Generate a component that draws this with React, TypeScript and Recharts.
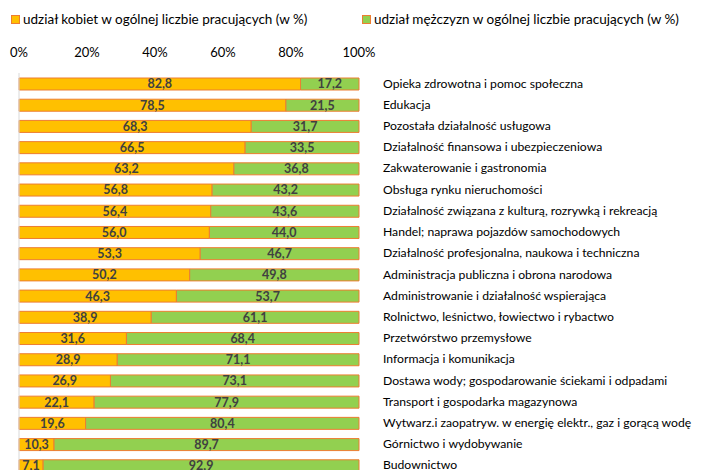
import React from "react";
import {
  BarChart,
  Bar,
  XAxis,
  YAxis,
  LabelList,
  ReferenceLine,
} from "recharts";

const categories = [
  "Opieka zdrowotna i pomoc społeczna",
  "Edukacja",
  "Pozostała działalność usługowa",
  "Działalność finansowa i ubezpieczeniowa",
  "Zakwaterowanie i gastronomia",
  "Obsługa rynku nieruchomości",
  "Działalność związana z kulturą, rozrywką i  rekreacją",
  "Handel; naprawa pojazdów samochodowych",
  "Działalność  profesjonalna, naukowa i techniczna",
  "Administracja publiczna i obrona narodowa",
  "Administrowanie i działalność wspierająca",
  "Rolnictwo, leśnictwo, łowiectwo i rybactwo",
  "Przetwórstwo przemysłowe",
  "Informacja  i  komunikacja",
  "Dostawa wody; gospodarowanie ściekami i odpadami",
  "Transport i  gospodarka magazynowa",
  "Wytwarz.i zaopatryw. w energię elektr., gaz i gorącą wodę",
  "Górnictwo i wydobywanie",
  "Budownictwo",
];

const women = [
  82.8, 78.5, 68.3, 66.5, 63.2, 56.8, 56.4, 56.0, 53.3, 50.2, 46.3, 38.9, 31.6,
  28.9, 26.9, 22.1, 19.6, 10.3, 7.1,
];

const men = [
  17.2, 21.5, 31.7, 33.5, 36.8, 43.2, 43.6, 44.0, 46.7, 49.8, 53.7, 61.1, 68.4,
  71.1, 73.1, 77.9, 80.4, 89.7, 92.9,
];

const xTicks = [0, 20, 40, 60, 80, 100];

const legendWomen = "udział kobiet w ogólnej liczbie pracujących (w %)";
const legendMen = "udział mężczyzn w ogólnej liczbie pracujących (w %)";

const FONT = "Lato, 'Noto Sans', sans-serif";
const YELLOW = "#FFC000";
const GREEN = "#92D050";
const ORANGE = "#ED7D31";

const data = categories.map((name, i) => ({
  name,
  women: women[i],
  men: men[i],
}));

const fmt = (v: any) => Number(v).toFixed(1).replace(".", ",");

const labelStyle = {
  fontFamily: FONT,
  fontSize: 12.5,
  fontWeight: 700,
  fill: "#404040",
};

function XTick(props: any) {
  const { x, y, payload } = props;
  return (
    <text
      x={x}
      y={y - 8}
      textAnchor="middle"
      fontFamily={FONT}
      fontSize={13}
      fill="#000"
    >
      {payload.value}%
    </text>
  );
}

function YTick(props: any) {
  const { x, y, payload } = props;
  return (
    <text
      x={x + 16}
      y={y}
      dy={4}
      textAnchor="start"
      fontFamily={FONT}
      fontSize={12.2}
      fill="#000"
    >
      {payload.value}
    </text>
  );
}

function LegendItem({ color, label }: { color: string; label: string }) {
  return (
    <div style={{ display: "flex", alignItems: "center" }}>
      <span
        style={{
          display: "inline-block",
          width: 7,
          height: 7,
          background: color,
          border: `1px solid ${ORANGE}`,
          marginRight: 3,
        }}
      />
      <span>{label}</span>
    </div>
  );
}

export default function App() {
  return (
    <div style={{ width: 694, fontFamily: FONT }}>
      <div
        style={{
          height: 34,
          position: "relative",
          fontSize: 13.5,
          color: "#000",
        }}
      >
        <div style={{ position: "absolute", left: 3, top: 3 }}>
          <LegendItem color={YELLOW} label={legendWomen} />
        </div>
        <div style={{ position: "absolute", left: 354, top: 3 }}>
          <LegendItem color={GREEN} label={legendMen} />
        </div>
      </div>
      <BarChart
        width={694}
        height={434}
        data={data}
        layout="vertical"
        margin={{ top: 0, right: 0, bottom: 0, left: 11 }}
        barSize={12}
      >
        <XAxis
          type="number"
          orientation="top"
          domain={[0, 100]}
          ticks={xTicks}
          height={31}
          axisLine={false}
          tickLine={false}
          tick={<XTick />}
          interval={0}
        />
        <YAxis
          type="category"
          dataKey="name"
          orientation="right"
          width={343}
          axisLine={false}
          tickLine={false}
          tick={<YTick />}
          interval={0}
        />
        <ReferenceLine x={0} stroke="#d9d9d9" />
        <Bar
          dataKey="women"
          stackId="a"
          fill={YELLOW}
          stroke={ORANGE}
          strokeWidth={1}
          isAnimationActive={false}
        >
          <LabelList
            dataKey="women"
            position="center"
            formatter={fmt}
            style={labelStyle}
          />
        </Bar>
        <Bar
          dataKey="men"
          stackId="a"
          fill={GREEN}
          stroke={ORANGE}
          strokeWidth={1}
          isAnimationActive={false}
        >
          <LabelList
            dataKey="men"
            position="center"
            formatter={fmt}
            style={labelStyle}
          />
        </Bar>
      </BarChart>
    </div>
  );
}
